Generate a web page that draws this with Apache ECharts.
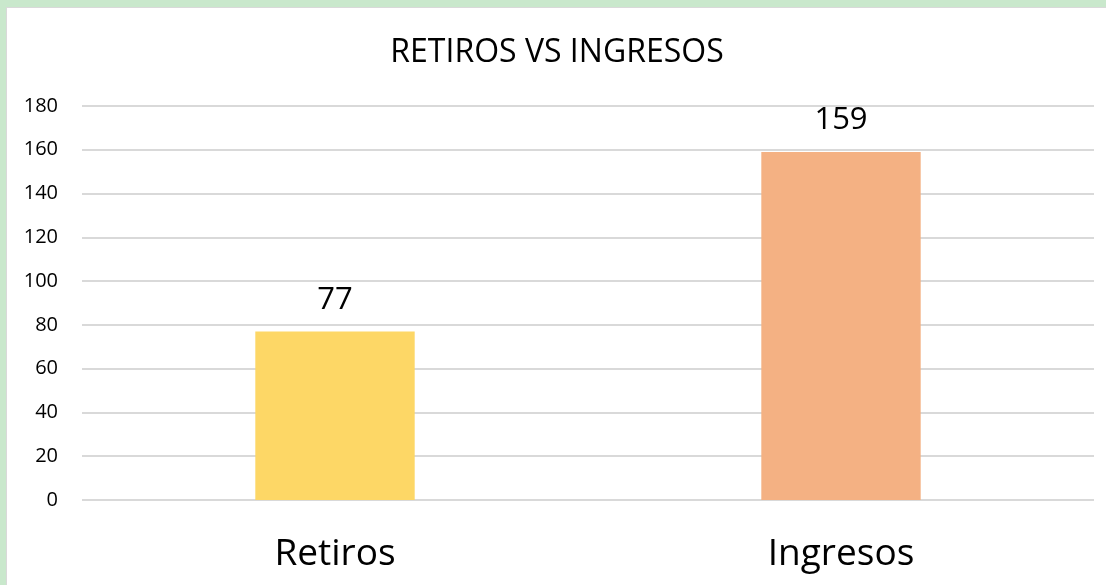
<!DOCTYPE html>
<html>
<head>
<meta charset="utf-8">
<script src="https://cdn.jsdelivr.net/npm/echarts@6/dist/echarts.min.js"></script>
<style>
  html, body { margin: 0; padding: 0; background: #c9e8cc; }
  #chart {
    position: absolute; left: 6px; top: 7px;
    width: 1100px; height: 578px;
    background: #fff;
    border-left: 1px solid #d9d9d9;
    border-top: 1px solid #d9d9d9;
  }
</style>
</head>
<body>
<div id="chart"></div>
<script>
// datos del grafico
var categorias = ['Retiros', 'Ingresos'];
var valores = [77, 159];
var colores = ['#fdd766', '#f4b183'];

var fuente = '"Open Sans", Lato, sans-serif';
var chart = echarts.init(document.getElementById('chart'));

var option = {
    textStyle: { fontFamily: fuente },
    title: {
        text: 'RETIROS VS INGRESOS',
        left: 'center',
        top: 24,
        textStyle: {
            fontSize: 32,
            fontWeight: 'normal',
            color: '#000',
            fontFamily: fuente
        }
    },
    grid: {
        left: 75,
        right: 13,
        top: 98,
        bottom: 86
    },
    xAxis: {
        type: 'category',
        data: categorias,
        axisLine: { show: false },
        axisTick: { show: false },
        axisLabel: {
            fontSize: 37,
            color: '#000',
            margin: 36
        }
    },
    yAxis: {
        type: 'value',
        min: 0,
        max: 180,
        interval: 20,
        axisLine: { show: false },
        axisTick: { show: false },
        axisLabel: {
            fontSize: 20,
            color: '#000',
            margin: 24
        },
        splitLine: {
            lineStyle: { color: '#d9d9d9', width: 2 }
        }
    },
    series: [{
        type: 'bar',
        barWidth: '31.5%',
        data: valores.map(function (v, i) {
            return { value: v, itemStyle: { color: colores[i] } };
        }),
        label: {
            show: true,
            position: 'top',
            distance: 16,
            fontSize: 31,
            color: '#000'
        }
    }]
};

chart.setOption(option);
</script>
</body>
</html>
